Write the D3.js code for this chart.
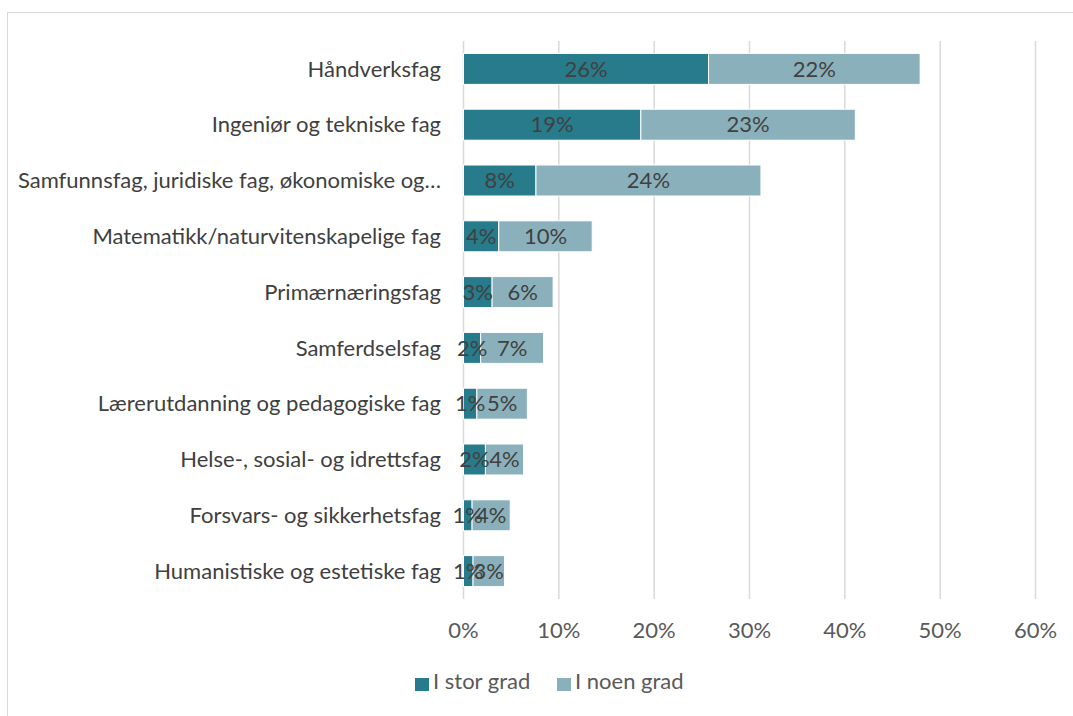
<!DOCTYPE html>
<html>
<head>
<meta charset="utf-8">
<script src="https://cdn.jsdelivr.net/npm/d3@7"></script>
<style>
  body { margin: 0; background: #fff; }
  text { font-family: Lato, "Open Sans", sans-serif; }
</style>
</head>
<body>
<script>
// categories, top to bottom
var categories = [
  "Håndverksfag",
  "Ingeniør og tekniske fag",
  "Samfunnsfag, juridiske fag, økonomiske og…",
  "Matematikk/naturvitenskapelige fag",
  "Primærnæringsfag",
  "Samferdselsfag",
  "Lærerutdanning og pedagogiske fag",
  "Helse-, sosial- og idrettsfag",
  "Forsvars- og sikkerhetsfag",
  "Humanistiske og estetiske fag"
];
var storGrad  = [25.7, 18.6, 7.6, 3.7, 3.0, 1.8, 1.4, 2.3, 0.9, 1.0];
var noenGrad  = [22.2, 22.5, 23.6, 9.8, 6.4, 6.6, 5.3, 4.0, 4.0, 3.3];
var seriesNames = ["I stor grad", "I noen grad"];
var colors = ["#287b8a", "#8ab1bb"];
var xTicks = [0, 10, 20, 30, 40, 50, 60];

var w = 1073, h = 716;
var plotLeft = 463.5, plotRight = 1035.5, plotTop = 41, plotBottom = 599;

var svg = d3.select("body").append("svg").attr("width", w).attr("height", h);

// outer frame
svg.append("rect").attr("x", 7.5).attr("y", 12.5).attr("width", 1080).attr("height", 720)
  .attr("fill", "none").attr("stroke", "#d9d9d9").attr("stroke-width", 1);

var x = d3.scaleLinear().domain([0, 60]).range([plotLeft, plotRight]);
var y = d3.scaleBand().domain(categories).range([plotTop, plotBottom]).paddingInner(0.445).paddingOuter(0.2225);

// gridlines
svg.append("g").selectAll("line").data(xTicks).enter().append("line")
  .attr("x1", function(d) { return x(d); }).attr("x2", function(d) { return x(d); })
  .attr("y1", plotTop).attr("y2", plotBottom)
  .attr("stroke", "#d9d9d9").attr("stroke-width", 1.5);

// stacked data
var rows = categories.map(function(c, i) {
  return { cat: c, segs: [
    { cat: c, x0: 0, x1: storGrad[i], v: storGrad[i], s: 0 },
    { cat: c, x0: storGrad[i], x1: storGrad[i] + noenGrad[i], v: noenGrad[i], s: 1 }
  ]};
});

var row = svg.append("g").selectAll("g").data(rows).enter().append("g");

row.selectAll("rect").data(function(d) { return d.segs; }).enter().append("rect")
  .attr("x", function(d) { return x(d.x0); })
  .attr("width", function(d) { return x(d.x1) - x(d.x0); })
  .attr("y", function(d) { return y(d.cat); })
  .attr("height", y.bandwidth())
  .attr("fill", function(d) { return colors[d.s]; })
  .attr("stroke", "#fff").attr("stroke-width", 1);

row.selectAll("text.val").data(function(d) { return d.segs; }).enter().append("text")
  .attr("class", "val")
  .attr("x", function(d) { return (x(d.x0) + x(d.x1)) / 2; })
  .attr("y", function(d) { return y(d.cat) + y.bandwidth() / 2; })
  .attr("dy", "0.35em")
  .attr("text-anchor", "middle")
  .attr("font-size", 22)
  .attr("fill", "#404040")
  .text(function(d) { return Math.round(d.v) + "%"; });

// category labels
svg.append("g").selectAll("text").data(categories).enter().append("text")
  .attr("x", 441)
  .attr("y", function(d) { return y(d) + y.bandwidth() / 2; })
  .attr("dy", "0.35em")
  .attr("text-anchor", "end")
  .attr("font-size", 22)
  .attr("fill", "#404040")
  .text(function(d) { return d; });

// x tick labels
svg.append("g").selectAll("text").data(xTicks).enter().append("text")
  .attr("x", function(d) { return x(d); })
  .attr("y", 630)
  .attr("dy", "0.35em")
  .attr("text-anchor", "middle")
  .attr("font-size", 22)
  .attr("fill", "#595959")
  .text(function(d) { return d + "%"; });

// legend
var legX = [415, 557];
var leg = svg.append("g").selectAll("g").data(seriesNames).enter().append("g");
leg.append("rect")
  .attr("x", function(d, i) { return legX[i]; }).attr("y", 678)
  .attr("width", 14).attr("height", 13)
  .attr("fill", function(d, i) { return colors[i]; });
leg.append("text")
  .attr("x", function(d, i) { return legX[i] + 18; }).attr("y", 689)
  .attr("font-size", 22)
  .attr("fill", "#595959")
  .text(function(d) { return d; });
</script>
</body>
</html>
